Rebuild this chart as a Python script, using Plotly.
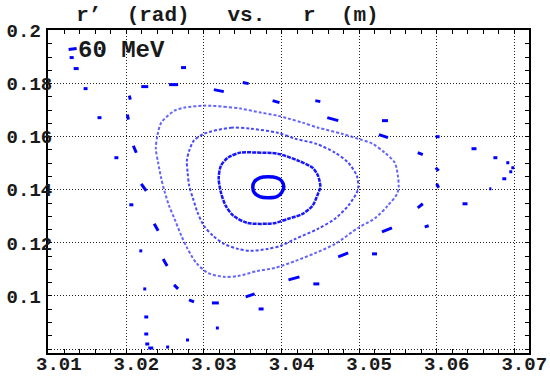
import plotly.graph_objects as go

# Closed invariant curves around the stable fixed point: r (m), r' (rad)
orbit1_r = [3.0403, 3.0400, 3.0394, 3.0383, 3.0372, 3.0365, 3.0363, 3.0365,
            3.0372, 3.0383, 3.0394, 3.0400]
orbit1_rp = [0.1411, 0.1434, 0.1445, 0.1449, 0.1445, 0.1430, 0.1411, 0.1389,
             0.1374, 0.1370, 0.1374, 0.1389]

orbit2_r = [3.0347, 3.0369, 3.0395, 3.0422, 3.0440, 3.0447, 3.0450, 3.0447,
            3.0440, 3.0427, 3.0409, 3.0392, 3.0382, 3.0356, 3.0338, 3.0328,
            3.0322, 3.0319, 3.0322, 3.0331]
orbit2_rp = [0.1540, 0.1540, 0.1536, 0.1509, 0.1483, 0.1453, 0.1411, 0.1385,
             0.1340, 0.1309, 0.1291, 0.1275, 0.1272, 0.1275, 0.1302, 0.1340,
             0.1389, 0.1442, 0.1491, 0.1521]

orbit3_r = [3.0300, 3.0335, 3.0360, 3.0395, 3.0418, 3.0444, 3.0469, 3.0486,
            3.0497, 3.0499, 3.0497, 3.0486, 3.0469, 3.0447, 3.0418, 3.0399,
            3.0382, 3.0360, 3.0344, 3.0326, 3.0312, 3.0300, 3.0292, 3.0286,
            3.0281, 3.0279, 3.0278, 3.0281, 3.0287]
orbit3_rp = [0.1611, 0.1634, 0.1630, 0.1615, 0.1592, 0.1574, 0.1540, 0.1502,
             0.1453, 0.1411, 0.1389, 0.1340, 0.1291, 0.1253, 0.1215, 0.1189,
             0.1177, 0.1170, 0.1177, 0.1196, 0.1226, 0.1264, 0.1313, 0.1366,
             0.1415, 0.1464, 0.1509, 0.1547, 0.1585]

orbit4_r = [3.0300, 3.0326, 3.0347, 3.0373, 3.0395, 3.0409, 3.0427, 3.0447,
            3.0478, 3.0499, 3.0517, 3.0533, 3.0546, 3.0550, 3.0551, 3.0549,
            3.0537, 3.0521, 3.0499, 3.0469, 3.0444, 3.0418, 3.0392, 3.0369,
            3.0344, 3.0326, 3.0305, 3.0290, 3.0279, 3.0271, 3.0262, 3.0255,
            3.0249, 3.0245, 3.0241, 3.0238, 3.0240, 3.0245, 3.0262, 3.0274]
orbit4_rp = [0.1717, 0.1713, 0.1706, 0.1691, 0.1679, 0.1668, 0.1653, 0.1634,
             0.1611, 0.1592, 0.1574, 0.1540, 0.1502, 0.1453, 0.1411, 0.1385,
             0.1340, 0.1294, 0.1257, 0.1196, 0.1162, 0.1132, 0.1106, 0.1094,
             0.1075, 0.1072, 0.1087, 0.1125, 0.1177, 0.1226, 0.1291, 0.1340,
             0.1396, 0.1442, 0.1502, 0.1555, 0.1604, 0.1653, 0.1698, 0.1709]

# Outer island chain: each entry is a short run of turns, from start to end
island_r_start = [3.01256, 3.01269, 3.01321, 3.01449, 3.01628, 3.01846, 3.02038,
                  3.02013, 3.02090, 3.02192, 3.02551, 3.02705, 3.03128, 3.03500,
                  3.03885, 3.04436, 3.04590, 3.05295, 3.05256, 3.05987, 3.05756,
                  3.06449, 3.05987, 3.06731, 3.06897, 3.06962, 3.06936, 3.06846,
                  3.06679, 3.06000, 3.05756, 3.06333, 3.05846, 3.05295, 3.04731,
                  3.05167, 3.04090, 3.04410, 3.03538, 3.03705, 3.03103, 3.03154,
                  3.02769, 3.02808, 3.02615, 3.02474, 3.02359, 3.02167, 3.02218,
                  3.02231, 3.02231, 3.02244, 3.02282, 3.02513, 3.02038, 3.02192,
                  3.01679]
island_r_end = [3.01359, 3.01321, 3.01385, 3.01500, 3.01679, 3.01897, 3.02051,
                3.02026, 3.02128, 3.02282, 3.02667, 3.02769, 3.03256, 3.03577,
                3.03974, 3.04500, 3.04731, 3.05372, 3.05372, 3.06038, 3.05821,
                3.06513, 3.06026, 3.06782, 3.06936, 3.07000, 3.06974, 3.06897,
                3.06705, 3.06026, 3.05821, 3.06397, 3.05897, 3.05423, 3.04859,
                3.05231, 3.04231, 3.04487, 3.03654, 3.03769, 3.03192, 3.03192,
                3.02808, 3.02872, 3.02667, 3.02526, 3.02410, 3.02205, 3.02256,
                3.02282, 3.02282, 3.02295, 3.02346, 3.02551, 3.02090, 3.02256,
                3.01718]
island_rp_start = [0.19283, 0.18981, 0.18566, 0.17811, 0.16717, 0.15208, 0.17547,
                   0.16830, 0.15660, 0.17887, 0.17962, 0.18604, 0.17774, 0.18038,
                   0.17358, 0.17358, 0.16717, 0.16604, 0.16075, 0.16000, 0.15396,
                   0.15547, 0.14830, 0.15208, 0.15019, 0.14830, 0.14679, 0.14415,
                   0.14038, 0.14226, 0.13321, 0.13472, 0.12604, 0.12415, 0.11472,
                   0.11585, 0.10604, 0.10453, 0.09962, 0.09509, 0.09736, 0.08792,
                   0.08340, 0.09849, 0.10415, 0.11396, 0.12717, 0.11698, 0.10264,
                   0.09208, 0.08566, 0.08189, 0.08038, 0.08075, 0.13434, 0.14226,
                   0.19208]
island_rp_end = [0.19321, 0.18981, 0.18566, 0.17811, 0.16717, 0.15208, 0.17396,
                 0.16642, 0.15396, 0.17887, 0.17962, 0.18604, 0.17698, 0.18000,
                 0.17283, 0.17321, 0.16604, 0.16604, 0.15962, 0.16000, 0.15321,
                 0.15547, 0.14717, 0.15208, 0.15019, 0.14830, 0.14679, 0.14415,
                 0.14038, 0.14075, 0.13472, 0.13472, 0.12642, 0.12566, 0.11623,
                 0.11585, 0.10717, 0.10453, 0.10075, 0.09509, 0.09736, 0.08792,
                 0.08340, 0.09774, 0.10264, 0.11132, 0.12453, 0.11698, 0.10264,
                 0.09208, 0.08566, 0.08189, 0.08038, 0.08075, 0.13434, 0.13962,
                 0.19208]

x_ticks = [3.01, 3.02, 3.03, 3.04, 3.05, 3.06, 3.07]
x_labels = ["3.01", "3.02", "3.03", "3.04", "3.05", "3.06", "3.07"]
y_ticks = [0.08, 0.10, 0.12, 0.14, 0.16, 0.18, 0.20]
y_labels = ["", "0.1\u00a0", "0.12", "0.14", "0.16", "0.18", "0.2\u00a0"]

MONO = "Courier New, Liberation Mono, monospace"
BLUE = "#0000ff"


def closed(xs, ys):
    return list(xs) + [xs[0]], list(ys) + [ys[0]]


fig = go.Figure()

for xs, ys, color, width, dash in [
    (orbit4_r, orbit4_rp, "rgba(50,50,255,0.75)", 2, "3px,2px"),
    (orbit3_r, orbit3_rp, "rgba(40,40,255,0.85)", 2, "3px,2px"),
    (orbit2_r, orbit2_rp, "#1515ff", 2.5, "4px,1px"),
    (orbit1_r, orbit1_rp, BLUE, 3.5, "solid"),
]:
    cx, cy = closed(xs, ys)
    fig.add_trace(go.Scatter(
        x=cx, y=cy, mode="lines",
        line=dict(color=color, width=width, dash=dash, shape="spline", smoothing=0.8),
        hoverinfo="skip", showlegend=False,
    ))

# island runs as separate short segments
seg_x, seg_y = [], []
for a, b, c, d in zip(island_r_start, island_r_end, island_rp_start, island_rp_end):
    seg_x += [a, b, None]
    seg_y += [c, d, None]
fig.add_trace(go.Scatter(
    x=seg_x, y=seg_y, mode="lines",
    line=dict(color=BLUE, width=3),
    hoverinfo="skip", showlegend=False,
))

axis_common = dict(
    showline=True, linecolor="black", linewidth=2, mirror="ticks",
    ticks="inside", ticklen=4, tickcolor="black", tickwidth=1,
    showgrid=True, gridcolor="#222222", gridwidth=1, griddash="1px,2px",
    zeroline=False, automargin=False,
    tickfont=dict(family=MONO, size=19, color="#1a1a1a", weight="bold"),
)

fig.update_xaxes(
    range=[3.0099, 3.0719], tickmode="array", tickvals=x_ticks, ticktext=x_labels,
    ticklabelshift=10, ticklabelstandoff=-8,
    minor=dict(dtick=0.002, tick0=3.01, ticks="inside", ticklen=4,
               tickcolor="black", showgrid=False),
    **axis_common,
)
fig.update_yaxes(
    range=[0.0785, 0.2002], tickmode="array", tickvals=y_ticks, ticktext=y_labels,
    ticklabelstandoff=-10,
    minor=dict(dtick=0.005, tick0=0.08, ticks="inside", ticklen=4,
               tickcolor="black", showgrid=False),
    **axis_common,
)

fig.update_layout(
    template="none",
    width=550, height=381,
    margin=dict(l=48, r=21, t=30, b=28, autoexpand=False),
    paper_bgcolor="white", plot_bgcolor="white",
    title=dict(
        text="r\u2019\u00a0\u00a0(rad)\u00a0\u00a0\u00a0vs.\u00a0\u00a0\u00a0r\u00a0\u00a0(m)",
        font=dict(family=MONO, size=21, color="#1a1a1a", weight="bold"),
        x=0.4136, xref="container", xanchor="center",
        y=0.965, yref="container", yanchor="middle",
        automargin=False,
    ),
    annotations=[dict(
        text="60 MeV", xref="paper", yref="paper", x=0.058, y=0.937,
        xanchor="left", yanchor="middle", showarrow=False,
        font=dict(family=MONO, size=24, color="#1a1a1a", weight="bold"),
    )],
)

fig.write_html("out.html")
